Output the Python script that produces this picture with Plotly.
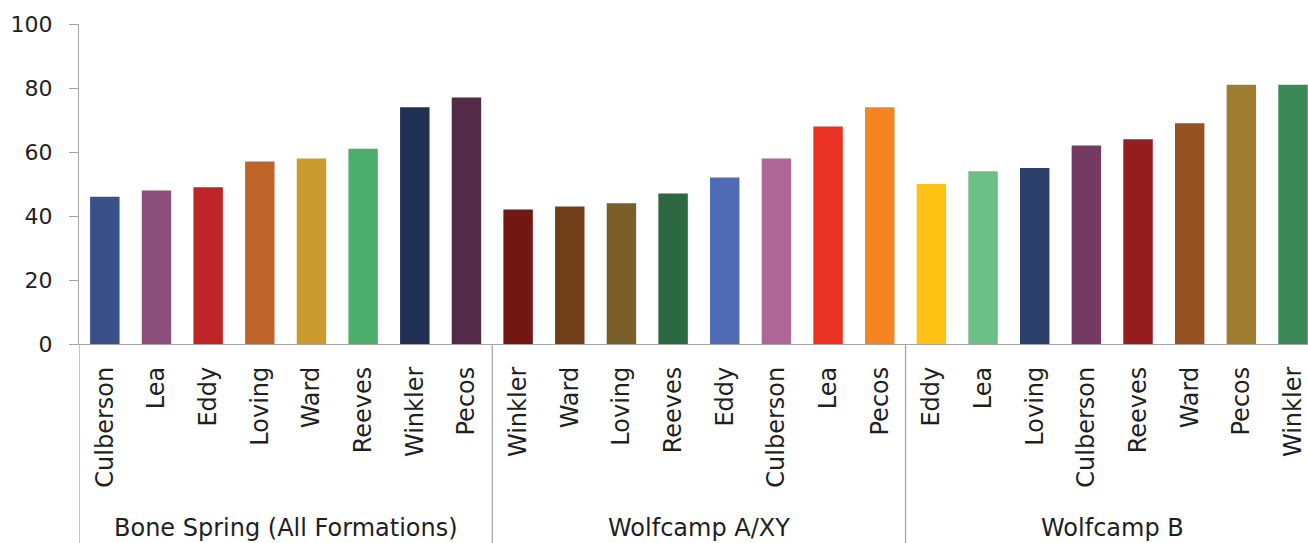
import plotly.graph_objects as go

groups = ["Bone Spring (All Formations)", "Wolfcamp A/XY", "Wolfcamp B"]
counties_bs = ["Culberson", "Lea", "Eddy", "Loving", "Ward", "Reeves", "Winkler", "Pecos"]
counties_wa = ["Winkler", "Ward", "Loving", "Reeves", "Eddy", "Culberson", "Lea", "Pecos"]
counties_wb = ["Eddy", "Lea", "Loving", "Culberson", "Reeves", "Ward", "Pecos", "Winkler"]
values_bs = [46, 48, 49, 57, 58, 61, 74, 77]
values_wa = [42, 43, 44, 47, 52, 58, 68, 74]
values_wb = [50, 54, 55, 62, 64, 69, 81, 81]
colors_bs = ["#3A5089", "#8C4E7B", "#BF2427", "#BF6428", "#CB9B2F", "#4BAE6B", "#213055", "#532B47"]
colors_wa = ["#721712", "#703E18", "#7A5F28", "#2C6842", "#4F6BB3", "#AD6695", "#EA3223", "#F48420"]
colors_wb = ["#FDC114", "#6BBF87", "#2D3F6C", "#733B61", "#961D1F", "#965223", "#9F7D30", "#3A8957"]
y_ticks = [0, 20, 40, 60, 80, 100]

labels = counties_bs + counties_wa + counties_wb
values = values_bs + values_wa + values_wb
colors = colors_bs + colors_wa + colors_wb
xs = list(range(len(labels)))

FONT = "DejaVu Sans"
TXT = "#1F1F1F"
AX = "#A6A6A6"

fig = go.Figure(go.Bar(x=xs, y=values, marker=dict(color=colors, line=dict(width=0)), width=0.57))

W, H = 1308, 543
ml, mr, mt, mb = 79, 0, 24, 199
plot_h = H - mt - mb
ybot = -mb / plot_h

n_per = len(counties_bs)
shapes = []
for g in range(len(groups) + 1):
    xb = g * n_per - 0.5
    if xb > len(labels) - 0.5:
        continue
    shapes.append(dict(type="line", xref="x", yref="paper", x0=xb, x1=xb, y0=0, y1=ybot,
                       line=dict(color=AX, width=1.3)))
annotations = []
for g, name in enumerate(groups):
    annotations.append(dict(text=name, xref="x", yref="paper", x=g * n_per + (n_per - 1) / 2,
                            y=(ybot * plot_h + 15) / plot_h, yanchor="middle", showarrow=False,
                            font=dict(family=FONT, size=24, color=TXT)))

fig.update_layout(
    width=W, height=H,
    margin=dict(l=ml, r=mr, t=mt, b=mb),
    paper_bgcolor="white", plot_bgcolor="white",
    showlegend=False, bargap=0.43,
    shapes=shapes, annotations=annotations,
    font=dict(family=FONT, color=TXT),
)
fig.update_xaxes(range=[-0.5, 23.29], tickmode="array", tickvals=xs, ticktext=labels,
                 tickangle=-90, showline=True, linecolor=AX, linewidth=1.3, ticks="",
                 showgrid=False, zeroline=False, ticklabelstandoff=12,
                 tickfont=dict(family=FONT, size=24, color=TXT))
fig.update_yaxes(range=[0, 100], tickmode="array", tickvals=y_ticks, showline=True, linecolor=AX,
                 linewidth=1.3, ticks="outside", ticklen=9, tickcolor=AX, showgrid=False,
                 zeroline=False, ticklabelstandoff=12,
                 tickfont=dict(family=FONT, size=22, color=TXT))

fig.write_html("out.html")
